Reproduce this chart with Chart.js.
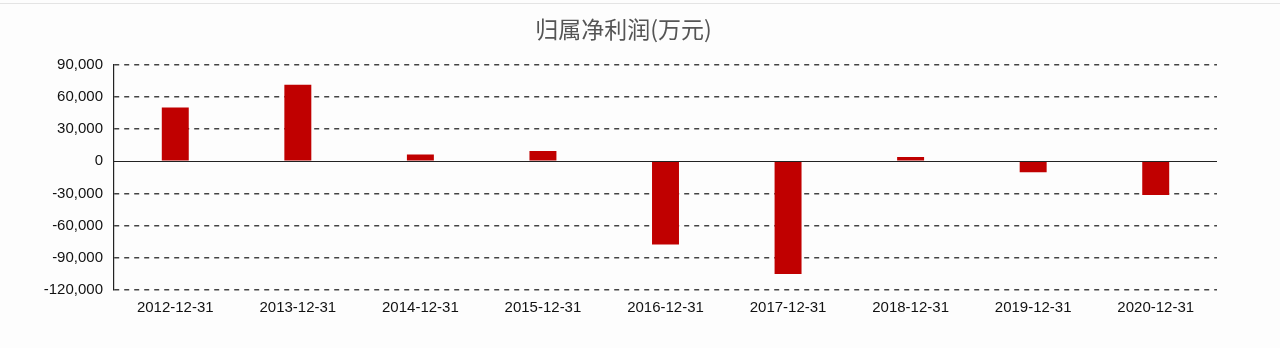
<!DOCTYPE html>
<html>
<head>
<meta charset="utf-8">
<title>归属净利润(万元)</title>
<script src="https://cdn.jsdelivr.net/npm/chart.js@4"></script>
<style>
    body { margin: 0; background: #fdfdfd; }
    #wrap { position: relative; width: 1280px; height: 348px; }
    #topline { position: absolute; left: 0; top: 3px; width: 1280px; height: 1px; background: #e4e4e4; }
</style>
</head>
<body>
<div id="wrap">
    <div id="topline"></div>
    <canvas id="profitChart" width="1280" height="348"></canvas>
</div>
<script>
// data (万元)
const periods = ['2012-12-31', '2013-12-31', '2014-12-31', '2015-12-31', '2016-12-31',
                 '2017-12-31', '2018-12-31', '2019-12-31', '2020-12-31'];
const netProfit = [50000, 71200, 6200, 9600, -77500, -105000, 4000, -10200, -31500];
const yMin = -120000;
const yMax = 90000;
const yStep = 30000;

// solid line at zero, grid lines are dashed
const zeroLine = {
    id: 'zeroLine',
    beforeDatasetsDraw(chart) {
        const y = Math.round(chart.scales.y.getPixelForValue(0)) + 0.5;
        const { left, right } = chart.chartArea;
        const ctx = chart.ctx;
        ctx.save();
        ctx.strokeStyle = '#222';
        ctx.lineWidth = 1.2;
        ctx.beginPath();
        ctx.moveTo(left, y);
        ctx.lineTo(right, y);
        ctx.stroke();
        ctx.restore();
    }
};

const ctx = document.getElementById('profitChart').getContext('2d');
new Chart(ctx, {
    type: 'bar',
    data: {
        labels: periods,
        datasets: [{
            label: '归属净利润',
            data: netProfit,
            backgroundColor: '#c00000',
            categoryPercentage: 1,
            barPercentage: 0.22
        }]
    },
    options: {
        responsive: false,
        animation: false,
        layout: { padding: { left: 30, right: 63, top: 0, bottom: 0 } },
        plugins: {
            legend: { display: false },
            tooltip: { enabled: false },
            title: {
                display: true,
                text: '归属净利润(万元)',
                color: '#555',
                font: { family: '"Noto Sans CJK SC"', size: 23, weight: 'normal', lineHeight: 1.2 },
                padding: { top: 15, bottom: 22 }
            }
        },
        scales: {
            x: {
                grid: { display: false, drawTicks: false },
                border: { display: false },
                ticks: {
                    color: '#111',
                    padding: 9,
                    maxRotation: 0,
                    autoSkip: false,
                    font: { family: '"Liberation Sans"', size: 15 }
                },
                afterFit: (scale) => { scale.height = 58; }
            },
            y: {
                min: yMin,
                max: yMax,
                grid: {
                    drawTicks: false,
                    color: (c) => c.tick && c.tick.value === 0 ? 'rgba(0,0,0,0)' : '#444',
                    lineWidth: 1.5
                },
                border: { display: true, color: '#222', width: 1.2, dash: [5, 5] },
                ticks: {
                    stepSize: yStep,
                    color: '#111',
                    padding: 11,
                    font: { family: '"Liberation Sans"', size: 15 },
                    callback: (v) => Number(v).toLocaleString('en-US')
                },
                afterFit: (scale) => { scale.width = 84; }
            }
        }
    },
    plugins: [zeroLine]
});
</script>
</body>
</html>
